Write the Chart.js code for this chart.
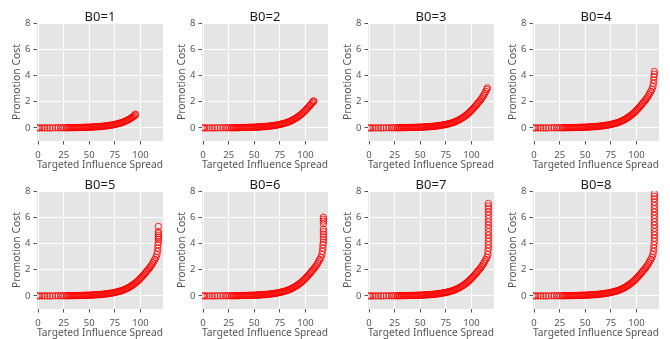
<!DOCTYPE html>
<html>
<head>
<meta charset="utf-8">
<script src="https://cdn.jsdelivr.net/npm/chart.js@4.4.1/dist/chart.umd.min.js"></script>
<style>
  html, body { margin: 0; padding: 0; background: #fff; }
  #wrap { position: relative; width: 670px; height: 339px; overflow: hidden; }
  #wrap canvas { position: absolute; }
</style>
</head>
<body>
<div id="wrap"></div>
<script>
// --- DATA ---
const panelTitles = ['B0=1', 'B0=2', 'B0=3', 'B0=4', 'B0=5', 'B0=6', 'B0=7', 'B0=8'];
const xTicks = [0, 25, 50, 75, 100];
const yTicks = [0, 2, 4, 6, 8];

// shared cost curve: all panels follow it, larger B0 just goes further
const spread = [0, 1.5, 4, 6.5, 9, 11.5, 14, 17, 19.5, 22, 24, 26,
  28, 29, 30, 31, 32, 33, 34, 35, 36, 37, 38, 39, 40, 41, 42, 43, 44, 45, 46, 47, 48, 49,
  50, 51, 52, 53, 54, 55, 56, 57, 58, 59, 60, 61, 62, 63, 64, 65, 66, 67, 68, 69,
  70, 71, 72, 73, 74, 75, 76, 77, 78, 79, 80, 81, 82, 83, 84, 85, 86, 87, 88, 89,
  90, 91, 92, 93, 94, 95, 96, 97, 98, 99, 100, 101, 102, 103, 104, 105, 106, 107, 108, 109,
  110, 111, 112, 113, 114, 115, 116];
const cost = [0, 0, 0, 0, 0, 0, 0, 0.01, 0.01, 0.01, 0.01, 0.01,
  0.01, 0.015, 0.02, 0.02, 0.02, 0.02, 0.02, 0.02, 0.02, 0.03, 0.03, 0.03, 0.03, 0.03, 0.03, 0.04, 0.04, 0.04, 0.04, 0.05, 0.05, 0.05,
  0.05, 0.06, 0.06, 0.07, 0.07, 0.08, 0.08, 0.09, 0.09, 0.1, 0.1, 0.11, 0.11, 0.12, 0.13, 0.14, 0.15, 0.16, 0.17, 0.18,
  0.19, 0.2, 0.22, 0.23, 0.25, 0.26, 0.28, 0.3, 0.32, 0.34, 0.36, 0.38, 0.41, 0.44, 0.47, 0.5, 0.54, 0.58, 0.62, 0.66,
  0.71, 0.76, 0.81, 0.86, 0.92, 0.98, 1.04, 1.11, 1.18, 1.26, 1.34, 1.42, 1.5, 1.59, 1.68, 1.77, 1.87, 1.96, 2.05, 2.15,
  2.25, 2.37, 2.5, 2.64, 2.78, 2.93, 3.15];

// where each panel's curve stops
const maxSpread = [95, 108, 115, 116, 116, 116, 116, 116];

// the near-vertical stacks at the end of each curve
const tailSpread = [
  [95],
  [108],
  [115.5],
  [116.5, 117, 117, 117.5, 117.5],
  [116.5, 117, 117, 117.5, 117.5, 117.5, 117.5, 117.5, 117.5, 117.5],
  [116.5, 117, 117, 117.5, 117.5, 117.5, 117.5, 117.5, 117.5, 117.5, 117.5, 117.5, 117.5],
  [116, 116.5, 116.5, 116.5, 116.5, 116.5, 116.5, 116.5, 116.5, 116.5, 116.5, 116.5, 116.5, 116.5, 116.5, 116.5],
  [116.5, 117, 117, 117.5, 117.5, 117.5, 117.5, 117.5, 117.5, 117.5, 117.5, 117.5, 117.5, 117.5, 117.5, 117.5, 117.5, 117.5, 117.5]
];
const tailCost = [
  [1.05],
  [2.03],
  [3.05],
  [3.4, 3.65, 3.9, 4.1, 4.3],
  [3.4, 3.65, 3.9, 4.1, 4.3, 4.45, 4.6, 4.75, 4.9, 5.3],
  [3.4, 3.65, 3.9, 4.1, 4.3, 4.5, 4.7, 4.9, 5.1, 5.5, 5.7, 5.85, 6.0],
  [3.4, 3.65, 3.9, 4.15, 4.4, 4.65, 4.9, 5.15, 5.4, 5.65, 5.9, 6.15, 6.4, 6.65, 6.85, 7.05],
  [3.4, 3.65, 3.9, 4.15, 4.4, 4.65, 4.9, 5.15, 5.4, 5.65, 5.9, 6.15, 6.4, 6.65, 6.9, 7.15, 7.4, 7.6, 7.8]
];

// --- LAYOUT ---
const colLeft = [37, 202, 368, 533];   // left edge of each plot area
const rowTop = [23, 191];              // top edge of each plot area
const plotW = 131, plotH = 118;
const leftGap = 38, topGap = 23, canvasH = 172;

const FONT = '"Noto Sans", "DejaVu Sans", sans-serif';
const grey = '#555555';

const panelBg = {
  id: 'panelBg',
  beforeDraw(chart) {
    const { ctx, chartArea: a } = chart;
    ctx.save();
    ctx.fillStyle = '#e5e5e5';
    ctx.fillRect(a.left, a.top, a.right - a.left, a.bottom - a.top);
    ctx.restore();
  }
};

function pointsFor(i) {
  const pts = [];
  spread.forEach((x, k) => { if (x <= maxSpread[i]) pts.push({ x, y: cost[k] }); });
  tailSpread[i].forEach((x, k) => pts.push({ x, y: tailCost[i][k] }));
  return pts;
}

function makePanel(i) {
  const col = i % 4, row = Math.floor(i / 4);
  const cv = document.createElement('canvas');
  const w = leftGap + plotW;
  cv.width = w; cv.height = canvasH;
  cv.style.left = (colLeft[col] - leftGap) + 'px';
  cv.style.top = (rowTop[row] - topGap) + 'px';
  cv.style.width = w + 'px'; cv.style.height = canvasH + 'px';
  document.getElementById('wrap').appendChild(cv);

  new Chart(cv, {
    type: 'scatter',
    data: {
      datasets: [{
        data: pointsFor(i),
        pointStyle: 'circle',
        pointRadius: 3.2,
        pointBorderWidth: 1,
        borderColor: 'rgba(255,0,0,0.85)',
        backgroundColor: 'rgba(0,0,0,0)'
      }]
    },
    options: {
      responsive: false,
      animation: false,
      devicePixelRatio: 1,
      layout: { padding: 0 },
      plugins: {
        legend: { display: false },
        tooltip: { enabled: false },
        title: {
          display: true,
          fullSize: false,
          text: panelTitles[i],
          color: '#1a1a1a',
          font: { family: FONT, size: 13, weight: 'normal', lineHeight: 1.2 },
          padding: { top: 9, bottom: topGap - 9 - 15.6 }
        }
      },
      scales: {
        x: {
          type: 'linear',
          min: -1, max: 122,
          afterBuildTicks: (s) => { s.ticks = xTicks.map(v => ({ value: v })); },
          afterFit: (s) => {
            s.height = canvasH - topGap - plotH;
            s.paddingLeft = 0; s.paddingRight = 0;
          },
          ticks: { color: grey, font: { family: FONT, size: 9.5 }, padding: 5, maxRotation: 0 },
          grid: { color: '#ffffff', lineWidth: 1, tickColor: grey, tickLength: 3.5 },
          border: { display: false },
          title: {
            display: true, text: 'Targeted Influence Spread', color: grey,
            font: { family: FONT, size: 10.4 }, padding: { top: 0, bottom: 1 }
          }
        },
        y: {
          type: 'linear',
          min: -1, max: 8,
          afterBuildTicks: (s) => { s.ticks = yTicks.map(v => ({ value: v })); },
          afterFit: (s) => {
            s.width = leftGap;
            s.paddingTop = 0; s.paddingBottom = 0;
          },
          ticks: { color: grey, font: { family: FONT, size: 9.5 }, padding: 3 },
          grid: { color: '#ffffff', lineWidth: 1, tickColor: grey, tickLength: 3.5 },
          border: { display: false },
          title: {
            display: true, text: 'Promotion Cost', color: grey,
            font: { family: FONT, size: 10.4 }, padding: { top: 12, bottom: 0 }
          }
        }
      }
    },
    plugins: [panelBg]
  });
}

panelTitles.forEach((_, i) => makePanel(i));
</script>
</body>
</html>
